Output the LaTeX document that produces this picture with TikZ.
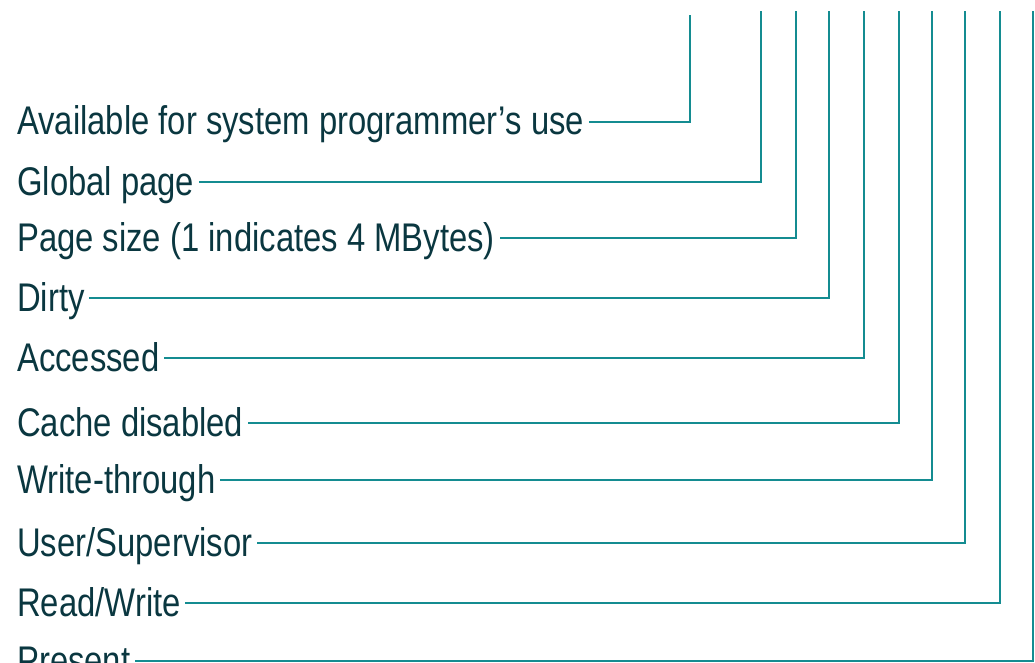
\documentclass[tikz,border=0pt]{standalone}
\usepackage{fontspec}
\setmainfont{Liberation Sans}[FakeStretch=0.82]
\usepackage{tikz}
\usetikzlibrary{positioning,calc}
\definecolor{bitteal}{RGB}{20,140,145}
\definecolor{bitink}{RGB}{10,55,64}

\begin{document}
\begin{tikzpicture}[
x=1pt, y=-1pt,
flag/.style={anchor=west, inner xsep=6pt, inner ysep=0pt, text=bitink,
font=\fontsize{40}{46}\selectfont, text height=26pt, text depth=0pt},
wire/.style={draw=bitteal, line width=2.8pt, line cap=rect}
]
\useasboundingbox (0,0) rectangle (1035,663);

\node[flag] (avl) at (11,122) {Available for system programmer's use};
\node[flag] (glb) at (11,182) {Global page};
\node[flag] (psz) at (11,238) {Page size (1 indicates 4 MBytes)};
\node[flag] (dty) at (11,298) {Dirty};
\node[flag] (acc) at (11,358) {Accessed};
\node[flag] (pcd) at (11,423) {Cache disabled};
\node[flag] (pwt) at (11,480) {Write-through};
\node[flag] (usr) at (11,543) {User/Supervisor};
\node[flag] (rw)  at (11,603) {Read/Write};
\node[flag] (prs) at (11,661) {Present};

\coordinate (b11) at (690,16);
\coordinate (b10) at (761,12);
\coordinate (b9)  at (796,12);
\coordinate (b8)  at (829,12);
\coordinate (b7)  at (864,12);
\coordinate (b6)  at (899,12);
\coordinate (b5)  at (932,12);
\coordinate (b4)  at (965,12);
\coordinate (b3)  at (1000,12);
\coordinate (b0)  at (1033,12);

\draw[wire] (avl.east) -| (b11);
\draw[wire] (glb.east) -| (b10);
\draw[wire] (psz.east) -| (b9);
\draw[wire] (dty.east) -| (b8);
\draw[wire] (acc.east) -| (b7);
\draw[wire] (pcd.east) -| (b6);
\draw[wire] (pwt.east) -| (b5);
\draw[wire] (usr.east) -| (b4);
\draw[wire] (rw.east)  -| (b3);
\draw[wire] (prs.east) -| (b0);

\end{tikzpicture}
\end{document}
